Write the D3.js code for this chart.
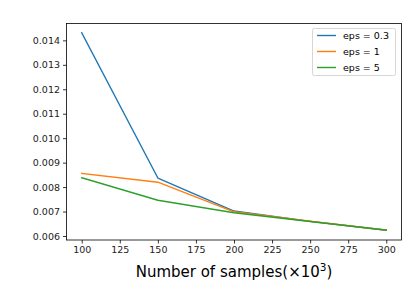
<!DOCTYPE html>
<html lang="en">
<head>
  <meta charset="UTF-8"/>
  <script src="https://d3js.org/d3.v7.min.js"></script>
  <style>
    body { margin: 0; background: #fff; }
    svg { display: block; font-family: "DejaVu Sans", sans-serif; }
    .tick text { font-family: "DejaVu Sans", sans-serif; font-size: 9.5px; fill: #222; }
  </style>
</head>
<body>
<svg id="chart" width="407" height="290"></svg>
<script>
// data
const samples = [100, 150, 200, 250, 300];
const eps03 = [0.01431, 0.00837, 0.00702, 0.00660, 0.00624];
const eps1  = [0.00856, 0.00820, 0.00699, 0.00660, 0.00624];
const eps5  = [0.00838, 0.00746, 0.00695, 0.00659, 0.00624];
const seriesNames = ['eps = 0.3', 'eps = 1', 'eps = 5'];
const colors = ['#1f77b4', '#ff7f0e', '#2ca02c'];
const xTicks = [100, 125, 150, 175, 200, 225, 250, 275, 300];
const yTicks = [0.006, 0.007, 0.008, 0.009, 0.010, 0.011, 0.012, 0.013, 0.014];

const plot = { left: 66.5, right: 401.5, top: 23.5, bottom: 240 };
const svg = d3.select('#chart');

const x = d3.scaleLinear().domain([90, 310]).range([plot.left, plot.right]);
const y = d3.scaleLinear().domain([0.005836, 0.01469]).range([plot.bottom, plot.top]);

const all = [eps03, eps1, eps5];
const line = d3.line().x((d, i) => x(samples[i])).y(d => y(d));

svg.append('g').selectAll('path').data(all).enter()
  .append('path')
  .attr('d', d => line(d))
  .attr('fill', 'none')
  .attr('stroke', (d, i) => colors[i])
  .attr('stroke-width', 1.4)
  .attr('stroke-linejoin', 'round')
  .attr('stroke-linecap', 'square');

// axes
const xAxis = svg.append('g').attr('transform', `translate(0,${plot.bottom})`)
  .call(d3.axisBottom(x).tickValues(xTicks).tickSize(3.5).tickPadding(3).tickFormat(d3.format('d')));
const yAxis = svg.append('g').attr('transform', `translate(${plot.left},0)`)
  .call(d3.axisLeft(y).tickValues(yTicks).tickSize(3.5).tickPadding(3).tickFormat(d3.format('.3f')));
[xAxis, yAxis].forEach(a => {
  a.attr('font-family', null).attr('font-size', null);
  a.select('.domain').remove();
  a.selectAll('.tick line').attr('stroke', '#000').attr('stroke-width', 0.8);
});

svg.append('rect')
  .attr('x', plot.left).attr('y', plot.top)
  .attr('width', plot.right - plot.left).attr('height', plot.bottom - plot.top)
  .attr('fill', 'none').attr('stroke', '#000').attr('stroke-width', 0.8);

// x label
const xl = svg.append('text')
  .attr('x', (plot.left + plot.right) / 2).attr('y', 277)
  .attr('text-anchor', 'middle')
  .attr('font-size', 15).attr('fill', '#000');
xl.append('tspan').text('Number of samples(\u00d710');
xl.append('tspan').attr('dy', -6).attr('font-size', 10.5).text('3');
xl.append('tspan').attr('dy', 6).text(')');

// legend
const lg = svg.append('g');
lg.append('rect')
  .attr('x', 312.5).attr('y', 28.5).attr('width', 83).attr('height', 47)
  .attr('rx', 2).attr('fill', '#fff').attr('fill-opacity', 0.8)
  .attr('stroke', '#ccc').attr('stroke-width', 0.8);
seriesNames.forEach((name, i) => {
  const yy = 35.5 + i * 16;
  lg.append('line')
    .attr('x1', 317).attr('x2', 336).attr('y1', yy).attr('y2', yy)
    .attr('stroke', colors[i]).attr('stroke-width', 1.4);
  lg.append('text')
    .attr('x', 343).attr('y', yy + 3.5)
    .attr('font-size', 9.5).attr('fill', '#000')
    .text(name);
});
</script>
</body>
</html>
